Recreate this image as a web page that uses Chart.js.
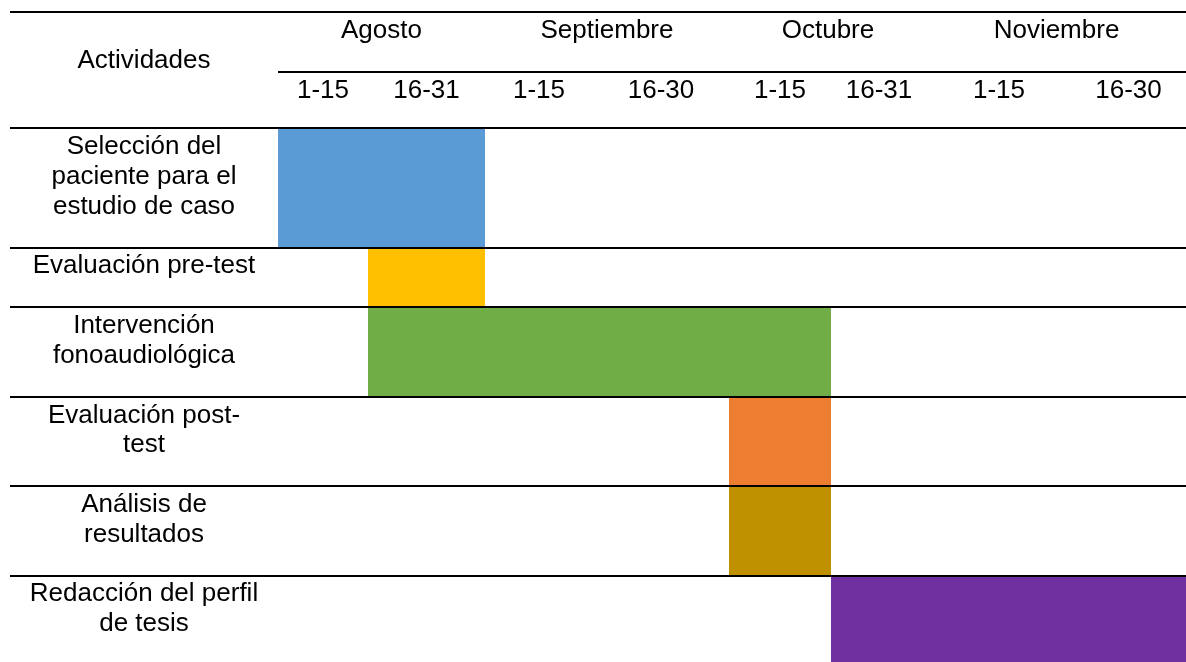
<!DOCTYPE html>
<html>
<head>
<meta charset="utf-8">
<script src="https://cdn.jsdelivr.net/npm/chart.js@4.4.0/dist/chart.umd.min.js"></script>
<style>
  html, body { margin: 0; background: #fff; }
  canvas { display: block; }
</style>
</head>
<body>
<canvas id="gantt" width="1186" height="662"></canvas>
<script>
// Chart data
const months = ['Agosto', 'Septiembre', 'Octubre', 'Noviembre'];
const periodsPerMonth = [2, 2, 2, 2];
const periods = ['1-15', '16-31', '1-15', '16-30', '1-15', '16-31', '1-15', '16-30'];
const activities = [
    ['Selección del', 'paciente para el', 'estudio de caso'],
    ['Evaluación pre-test'],
    ['Intervención', 'fonoaudiológica'],
    ['Evaluación post-', 'test'],
    ['Análisis de', 'resultados'],
    ['Redacción del perfil', 'de tesis']
];
// first period index and period index where each activity ends
const startPeriod = [0, 1, 1, 4, 4, 5];
const endPeriod = [2, 2, 5, 5, 5, 8];

// Look of the table (widths of the period columns, colours)
const colWidths = [90, 117, 108, 136, 102, 96, 144, 115];
const barColors = ['#5B9BD5', '#FFC000', '#70AD47', '#ED7D31', '#BF9000', '#7030A0'];
const FONT = '26px "Liberation Sans", Arial, sans-serif';
const LABEL_LEFT = 10;     // table lines start here
const HEADER_TOP = -3.9;   // y units, one unit = one text line
const HEADER_MID = -1.9;
const BASELINE = 0.87;     // baseline offset inside a text line
const Y_MAX = 17.9;        // last row is cut by the frame

// column edges in table units
const edges = [0];
colWidths.forEach(w => edges.push(edges[edges.length - 1] + w));

// each row is as tall as its text plus one empty line
const rowStarts = [];
let acc = 0;
activities.forEach(lines => { rowStarts.push(acc); acc += lines.length + 1; });

const datasets = activities.map((lines, i) => ({
    label: lines.join(' '),
    data: [
        { x: edges[startPeriod[i]], y: rowStarts[i] },
        { x: edges[endPeriod[i]], y: rowStarts[i] }
    ],
    fill: { value: rowStarts[i] + lines.length + 1 },
    backgroundColor: barColors[i],
    borderColor: 'rgba(0,0,0,0)',
    borderWidth: 0,
    pointRadius: 0
}));

// Draw the table lines and the texts on top of the bars
const tablePlugin = {
    id: 'table',
    afterDatasetsDraw(chart) {
        const ctx = chart.ctx;
        const xs = chart.scales.x, ys = chart.scales.y, area = chart.chartArea;
        ctx.save();
        ctx.strokeStyle = '#000';
        ctx.lineWidth = 2;
        const hline = (v, x0) => {
            const py = Math.round(ys.getPixelForValue(v));
            ctx.beginPath();
            ctx.moveTo(x0, py);
            ctx.lineTo(chart.width, py);
            ctx.stroke();
        };
        hline(HEADER_TOP, LABEL_LEFT);
        hline(HEADER_MID, area.left);
        rowStarts.forEach(r => hline(r, LABEL_LEFT));

        ctx.fillStyle = '#000';
        ctx.font = FONT;
        ctx.textAlign = 'center';
        ctx.textBaseline = 'alphabetic';
        const labelX = (LABEL_LEFT + area.left) / 2;
        const base = v => ys.getPixelForValue(v + BASELINE);

        ctx.fillText('Actividades', labelX, base(HEADER_TOP + 1));
        let p = 0;
        months.forEach((m, i) => {
            const cx = xs.getPixelForValue((edges[p] + edges[p + periodsPerMonth[i]]) / 2);
            ctx.fillText(m, cx, base(HEADER_TOP));
            p += periodsPerMonth[i];
        });
        periods.forEach((t, i) => {
            const cx = xs.getPixelForValue((edges[i] + edges[i + 1]) / 2);
            ctx.fillText(t, cx, base(HEADER_MID));
        });
        activities.forEach((lines, i) => {
            lines.forEach((t, j) => ctx.fillText(t, labelX, base(rowStarts[i] + j)));
        });
        ctx.restore();
    }
};

new Chart(document.getElementById('gantt'), {
    type: 'line',
    data: { datasets: datasets },
    options: {
        responsive: false,
        animation: false,
        layout: { padding: { left: 278, top: 12, right: 0, bottom: 0 } },
        scales: {
            x: { type: 'linear', display: false, min: 0, max: edges[edges.length - 1] },
            y: { type: 'linear', display: false, reverse: true, min: HEADER_TOP, max: Y_MAX }
        },
        plugins: {
            legend: { display: false },
            tooltip: { enabled: false }
        }
    },
    plugins: [tablePlugin]
});
</script>
</body>
</html>
